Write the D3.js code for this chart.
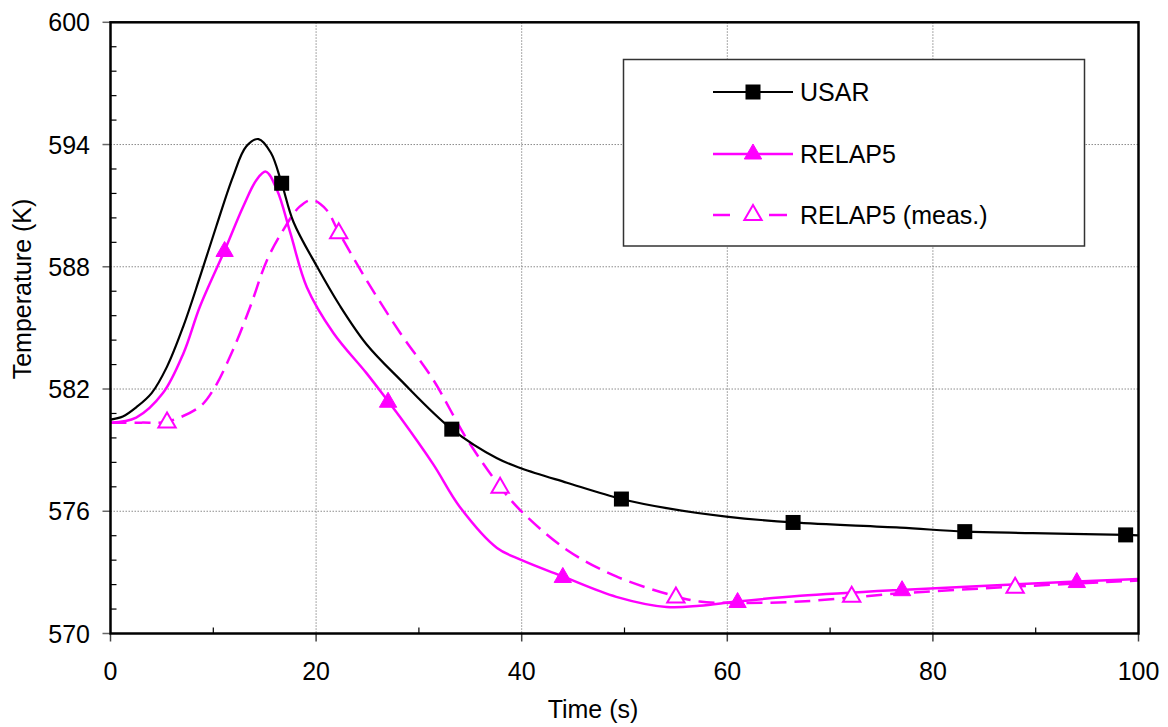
<!DOCTYPE html>
<html><head><meta charset="utf-8">
<script src="https://cdn.jsdelivr.net/npm/d3@7"></script>
<style>body{margin:0;background:#fff}svg{display:block}text{font-family:"Liberation Sans",Arial,sans-serif;fill:#000}</style>
</head><body>
<svg id="c" width="1168" height="727"></svg>
<script>
// ---- data ----
const xTicks = [0, 20, 40, 60, 80, 100];
const yTicks = [570, 576, 582, 588, 594, 600];
const seriesNames = ["USAR", "RELAP5", "RELAP5 (meas.)"];

const usarT = [0,1.2,2.5,4,5.5,7.1,8.7,10.3,11.9,13.2,14.4,15.6,16.65,17.8,20.1,22.3,24.9,28.2,33.2,37.6,40,44.4,49.7,54.1,59.9,66.4,76.8,83.1,89.7,98.75,100];
const usarV = [580.5,580.65,581.1,581.8,583.1,585.1,587.5,590.0,592.4,593.9,594.27,593.6,592.1,590.2,588.0,586.1,584.2,582.45,580.03,578.6,578.1,577.4,576.6,576.15,575.74,575.45,575.2,575.0,574.93,574.84,574.82];
const usarMarkT = [16.65,33.2,49.7,66.4,83.1,98.75];
const usarMarkV = [592.1,580.03,576.6,575.45,575.0,574.84];

const relapT = [0,2.5,5.1,7.1,8.7,11.1,12.9,14.2,15.1,16.2,17.5,19.1,21.7,24.9,27.0,28.2,31.4,34.0,37.6,40,44.0,49.2,54.1,57.3,61.0,67.1,76.8,94.0,100];
const relapV = [580.35,580.6,581.8,583.76,586.05,588.8,590.95,592.26,592.67,591.77,589.65,587.0,584.74,582.78,581.4,580.6,578.3,576.2,574.2,573.6,572.8,571.8,571.3,571.36,571.57,571.85,572.14,572.55,572.68];
const relapMarkT = [11.1,27.0,44.0,61.0,77.0,94.0];
const relapMarkV = [588.8,581.4,572.8,571.57,572.15,572.55];

const measT = [0,3,5.5,8.7,10,11.9,13.6,15.2,16.8,18.4,19.6,21.0,22.2,24.9,28.2,31.4,34.6,37.9,40,44.4,49.2,55.0,57.3,60.6,67.1,76.8,88.0,100];
const measV = [580.35,580.35,580.4,581.14,581.96,583.9,586.05,588.3,589.8,590.95,591.28,590.8,589.7,587.35,584.74,582.45,579.6,577.2,575.98,574.1,572.8,571.82,571.57,571.5,571.57,571.97,572.3,572.6];
const measMarkT = [5.5,22.2,37.9,55.0,72.1,88.0];
const measMarkV = [580.4,589.7,577.2,571.82,571.85,572.3];

// ---- layout ----
const L = 110.5, R = 1138.5, T = 22.3, B = 633.5;
const svg = d3.select("#c");
const x = d3.scaleLinear().domain([0, 100]).range([L, R]);
const y = d3.scaleLinear().domain([570, 600]).range([B, T]);
const FS = 25;
const MAG = "#ff00ff";

// gridlines
const g = svg.append("g");
g.selectAll(".gx").data(xTicks.filter(d => d > 0 && d < 100)).join("line")
  .attr("x1", d => x(d)).attr("x2", d => x(d)).attr("y1", T).attr("y2", B)
  .attr("stroke", "#8c8c8c").attr("stroke-width", 1).attr("stroke-dasharray", "1.5,1.5");
g.selectAll(".gy").data(yTicks.filter(d => d > 570 && d < 600)).join("line")
  .attr("x1", L).attr("x2", R).attr("y1", d => y(d)).attr("y2", d => y(d))
  .attr("stroke", "#8c8c8c").attr("stroke-width", 1).attr("stroke-dasharray", "1.5,1.5");

// minor ticks
const yMinor = d3.range(0, 30.001, 1.2).map(v => 570 + v).filter(v => !yTicks.some(t => Math.abs(t - v) < 0.01));
g.selectAll(".my").data(yMinor).join("line")
  .attr("x1", L).attr("x2", L + 6).attr("y1", d => y(d)).attr("y2", d => y(d))
  .attr("stroke", "#000").attr("stroke-width", 1.2);
const xMinor = [10, 30, 50, 70, 90];
g.selectAll(".mx").data(xMinor).join("line")
  .attr("x1", d => x(d)).attr("x2", d => x(d)).attr("y1", B).attr("y2", B - 6)
  .attr("stroke", "#000").attr("stroke-width", 1.2);

// major ticks (outward)
g.selectAll(".ty").data(yTicks).join("line")
  .attr("x1", L - 8).attr("x2", L).attr("y1", d => y(d)).attr("y2", d => y(d))
  .attr("stroke", "#666").attr("stroke-width", 1.5);
g.selectAll(".tx").data(xTicks).join("line")
  .attr("x1", d => x(d)).attr("x2", d => x(d)).attr("y1", B).attr("y2", B + 8)
  .attr("stroke", "#444").attr("stroke-width", 1.5);

// tick labels
g.selectAll(".ly").data(yTicks).join("text")
  .attr("x", 90).attr("y", d => y(d) + 9).attr("text-anchor", "end")
  .attr("font-size", FS).text(d => d);
g.selectAll(".lx").data(xTicks).join("text")
  .attr("x", d => x(d)).attr("y", 680).attr("text-anchor", "middle")
  .attr("font-size", FS).text(d => d);

// axis titles
svg.append("text").attr("x", 593).attr("y", 718).attr("text-anchor", "middle")
  .attr("font-size", FS).text("Time (s)");
svg.append("text").attr("transform", "translate(31,289) rotate(-90)").attr("text-anchor", "middle")
  .attr("font-size", FS).text("Temperature (K)");

// lines
const line = d3.line().x(d => x(d[0])).y(d => y(d[1])).curve(d3.curveCatmullRom.alpha(0.5));
const zip = (a, b) => a.map((v, i) => [v, b[i]]);
svg.append("path").datum(zip(measT, measV)).attr("d", line)
  .attr("fill", "none").attr("stroke", MAG).attr("stroke-width", 2.5).attr("stroke-dasharray", "16,8");
svg.append("path").datum(zip(relapT, relapV)).attr("d", line)
  .attr("fill", "none").attr("stroke", MAG).attr("stroke-width", 2.5);
svg.append("path").datum(zip(usarT, usarV)).attr("d", line)
  .attr("fill", "none").attr("stroke", "#000").attr("stroke-width", 2.2);

// markers
const tri = d3.symbol().type(d3.symbolTriangle).size(130);
function square(sel, pts) {
  sel.selectAll(null).data(pts).join("rect")
    .attr("x", d => x(d[0]) - 7.5).attr("y", d => y(d[1]) - 7.5)
    .attr("width", 15).attr("height", 15).attr("fill", "#000");
}
function triangles(sel, pts, open) {
  sel.selectAll(null).data(pts).join("path")
    .attr("d", tri).attr("transform", d => `translate(${x(d[0])},${y(d[1]) + 1})`)
    .attr("fill", open ? "#fff" : MAG).attr("stroke", MAG).attr("stroke-width", open ? 2 : 1);
}
triangles(svg.append("g"), zip(measMarkT, measMarkV), true);
triangles(svg.append("g"), zip(relapMarkT, relapMarkV), false);
square(svg.append("g"), zip(usarMarkT, usarMarkV));

// frame
svg.append("rect").attr("x", L).attr("y", T).attr("width", R - L).attr("height", B - T)
  .attr("fill", "none").attr("stroke", "#000").attr("stroke-width", 2.5);

// legend
const lg = svg.append("g");
lg.append("rect").attr("x", 623.5).attr("y", 59.5).attr("width", 461).attr("height", 186.5)
  .attr("fill", "#fff").attr("stroke", "#333").attr("stroke-width", 1.5);
const rows = [92, 154, 215];
// USAR
lg.append("line").attr("x1", 713).attr("x2", 793).attr("y1", rows[0]).attr("y2", rows[0]).attr("stroke", "#000").attr("stroke-width", 2.2);
lg.append("rect").attr("x", 753 - 7.5).attr("y", rows[0] - 7.5).attr("width", 15).attr("height", 15).attr("fill", "#000");
// RELAP5
lg.append("line").attr("x1", 713).attr("x2", 793).attr("y1", rows[1]).attr("y2", rows[1]).attr("stroke", MAG).attr("stroke-width", 2.5);
lg.append("path").attr("d", tri).attr("transform", `translate(753,${rows[1]})`).attr("fill", MAG).attr("stroke", MAG);
// meas
lg.append("line").attr("x1", 713).attr("x2", 730).attr("y1", rows[2]).attr("y2", rows[2]).attr("stroke", MAG).attr("stroke-width", 2.5);
lg.append("line").attr("x1", 769).attr("x2", 787).attr("y1", rows[2]).attr("y2", rows[2]).attr("stroke", MAG).attr("stroke-width", 2.5);
lg.append("path").attr("d", tri).attr("transform", `translate(753,${rows[2]})`).attr("fill", "#fff").attr("stroke", MAG).attr("stroke-width", 2);
lg.selectAll(".lt").data(seriesNames).join("text")
  .attr("x", 800).attr("y", (d, i) => rows[i] + 9).attr("font-size", FS).text(d => d);
</script>
</body></html>
